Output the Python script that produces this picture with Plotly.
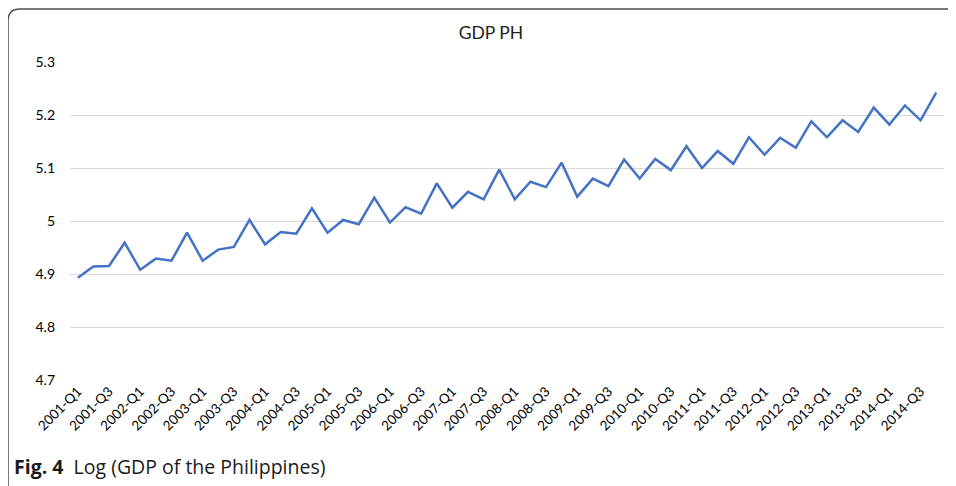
import plotly.graph_objects as go

# ─── Data ─────────────────────────────────────────────────────────────────────

years = list(range(2001, 2015))
quarters = [f"{y}-Q{q}" for y in years for q in (1, 2, 3, 4)]

log_gdp = [
    4.893, 4.914, 4.915, 4.959, 4.908, 4.929, 4.925, 4.978,
    4.925, 4.946, 4.951, 5.002, 4.956, 4.979, 4.976, 5.024,
    4.978, 5.002, 4.994, 5.044, 4.997, 5.026, 5.014, 5.071,
    5.025, 5.055, 5.041, 5.097, 5.041, 5.074, 5.064, 5.110,
    5.046, 5.080, 5.066, 5.116, 5.080, 5.117, 5.096, 5.141,
    5.100, 5.132, 5.108, 5.158, 5.125, 5.157, 5.138, 5.188,
    5.158, 5.190, 5.168, 5.214, 5.182, 5.218, 5.190, 5.242,
]

y_ticks = [4.7, 4.8, 4.9, 5.0, 5.1, 5.2, 5.3]
y_tick_text = ["4.7", "4.8", "4.9", "5", "5.1", "5.2", "5.3"]
x_ticks = [q for q in quarters if q.endswith("Q1") or q.endswith("Q3")]

# ─── Figure ───────────────────────────────────────────────────────────────────

# the page body keeps its default 8px margin, so the figure is drawn 8px smaller
OFF = 8
W, H = 956 - OFF, 486 - OFF
ML, MT = 70 - OFF, 62 - OFF
MR, MB = W - (944 - OFF), H - (380 - OFF)
PW, PH = W - ML - MR, H - MT - MB


def px_to_paper(x, y):
    """Reference-image pixel -> paper coords."""
    return (x - OFF - ML) / PW, 1 - (y - OFF - MT) / PH


fig = go.Figure()
fig.add_trace(go.Scatter(
    x=quarters, y=log_gdp, mode="lines",
    line=dict(color="#4472C4", width=2.5),
    hoverinfo="x+y", showlegend=False,
))

# rounded frame around the figure (top-left corner visible)
x0, y_top = px_to_paper(8, 9)
x_r, y_b = px_to_paper(990, 520)
rx, ry = 12 / PW, 12 / PH
frame = (f"M {x0},{y_b} L {x0},{y_top - ry} Q {x0},{y_top} {x0 + rx},{y_top} "
         f"L {x_r},{y_top}")
fig.add_shape(type="path", path=frame, xref="paper", yref="paper",
              line=dict(color="#4d4d4d", width=1.5))

fig.update_layout(
    width=W, height=H,
    margin=dict(l=ML, r=MR, t=MT, b=MB),
    paper_bgcolor="white", plot_bgcolor="white",
    font=dict(family="Lato, Open Sans, sans-serif", color="#000000"),
    title=dict(text="GDP PH", x=(491 - OFF) / W, xref="container", xanchor="center",
               y=1 - (33 - OFF) / H, yanchor="middle",
               font=dict(size=17.5, color="#222222")),
    xaxis=dict(
        type="category", range=[-0.5, len(quarters) - 0.5],
        tickmode="array", tickvals=x_ticks, ticktext=x_ticks,
        tickangle=-45, tickfont=dict(size=13.5), showgrid=False,
        showline=False, zeroline=False, ticks="",
    ),
    yaxis=dict(
        range=[4.7, 5.3], tickmode="array", tickvals=y_ticks, ticktext=y_tick_text,
        tickfont=dict(size=14), gridcolor="#d9d9d9", gridwidth=1,
        showline=False, zeroline=False, ticks="", ticklabelstandoff=14,
    ),
)

fig.add_annotation(
    text="<b>Fig. 4</b>  Log (GDP of the Philippines)",
    xref="paper", yref="paper", x=px_to_paper(12, 0)[0], y=px_to_paper(0, 466)[1],
    xanchor="left", yanchor="middle", showarrow=False,
    font=dict(family="Open Sans, sans-serif", size=19.5, color="#1a1a1a"),
)

fig.write_html("out.html")
